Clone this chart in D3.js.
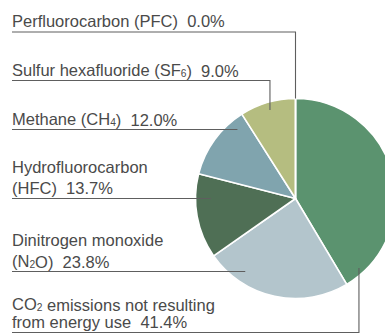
<!DOCTYPE html>
<html>
<head>
<meta charset="utf-8">
<script src="https://cdn.jsdelivr.net/npm/d3@7"></script>
<style>
  html, body { margin: 0; padding: 0; background: #fff; }
  svg { display: block; }
  text { font-family: "Liberation Sans", Arial, Helvetica, sans-serif; white-space: pre; }
</style>
</head>
<body>
<svg id="chart" width="385" height="333"></svg>
<script>
// Greenhouse gas emissions other than energy-related CO2 (share, %)
const categories = [
  "CO_2 emissions not resulting|from energy use",
  "Dinitrogen monoxide|(N_2O)",
  "Hydrofluorocarbon|(HFC)",
  "Methane (CH_4)",
  "Sulfur hexafluoride (SF_6)",
  "Perfluorocarbon (PFC)"
];
const shares = [41.4, 23.8, 13.7, 12.0, 9.0, 0.0];
const colors = ["#5b936f", "#b3c5cc", "#4f6f55", "#80a4ae", "#b5bd80", "#c9c9c9"];

// Label placement: baseline of the last text line, line spacing,
// and where the leader touches the pie (angle in degrees, radius fraction)
const labelBaseline = [327.5, 266.5, 193.5, 124.5, 75.5, 27];
const labelLineGap = [18, 21, 21, 0, 0, 0];
const leaderAngle = [137.6, 214.7, 270, 319.9, 343.9, 0];
const leaderRadius = [0.941, 0.888, 0.845, 0.91, 0.921, 1];

const W = 385, H = 333;
const cx = 295.5, cy = 198.5, R = 100;
const textX = 12;
const fontSize = 16.5;

const svg = d3.select("#chart");

const pie = d3.pie().sort(null).value(d => d)(shares);
const arc = d3.arc().innerRadius(0).outerRadius(R);
const color = d3.scaleOrdinal().domain(d3.range(shares.length)).range(colors);

const g = svg.append("g").attr("transform", `translate(${cx},${cy})`);
g.selectAll("path.slice")
  .data(pie)
  .join("path")
  .attr("class", "slice")
  .attr("d", arc)
  .attr("fill", (d, i) => color(i))
  .attr("stroke", "#fff")
  .attr("stroke-width", 1.6)
  .attr("stroke-linejoin", "round");

const fmt = d => d3.format(".1f")(d) + "%";

// Leader lines: underline from the text edge, then elbow down/up to the slice
const leaders = svg.append("g");
categories.forEach((c, i) => {
  const a = leaderAngle[i] * Math.PI / 180;
  const ax = cx + R * leaderRadius[i] * Math.sin(a);
  const ay = cy - R * leaderRadius[i] * Math.cos(a);
  const uy = labelBaseline[i] + 5;
  const p = d3.path();
  p.moveTo(textX, uy);
  p.lineTo(ax, uy);
  p.lineTo(ax, ay);
  leaders.append("path")
    .attr("d", p.toString())
    .attr("fill", "none")
    .attr("stroke", "#5e5e5e")
    .attr("stroke-width", 1.1);
});

// Writes a string into a text element, turning "_d" into a small subscript
function writeRich(textSel, str) {
  const parts = str.split(/(_\d)/);
  parts.forEach(part => {
    if (!part) return;
    if (part[0] === "_") {
      textSel.append("tspan")
        .attr("font-size", fontSize * 0.62)
        .attr("dy", 1)
        .text(part.slice(1));
      textSel.append("tspan").attr("dy", -1).text("");
    } else {
      textSel.append("tspan").text(part);
    }
  });
}

const labels = svg.append("g")
  .attr("font-size", fontSize)
  .attr("fill", "#4a4a4a");

categories.forEach((c, i) => {
  const lines = c.split("|");
  const n = lines.length;
  lines.forEach((ln, j) => {
    const y = labelBaseline[i] - (n - 1 - j) * labelLineGap[i];
    const t = labels.append("text").attr("x", textX).attr("y", y);
    writeRich(t, ln);
    if (j === n - 1) t.append("tspan").text("  " + fmt(shares[i]));
  });
});
</script>
</body>
</html>
